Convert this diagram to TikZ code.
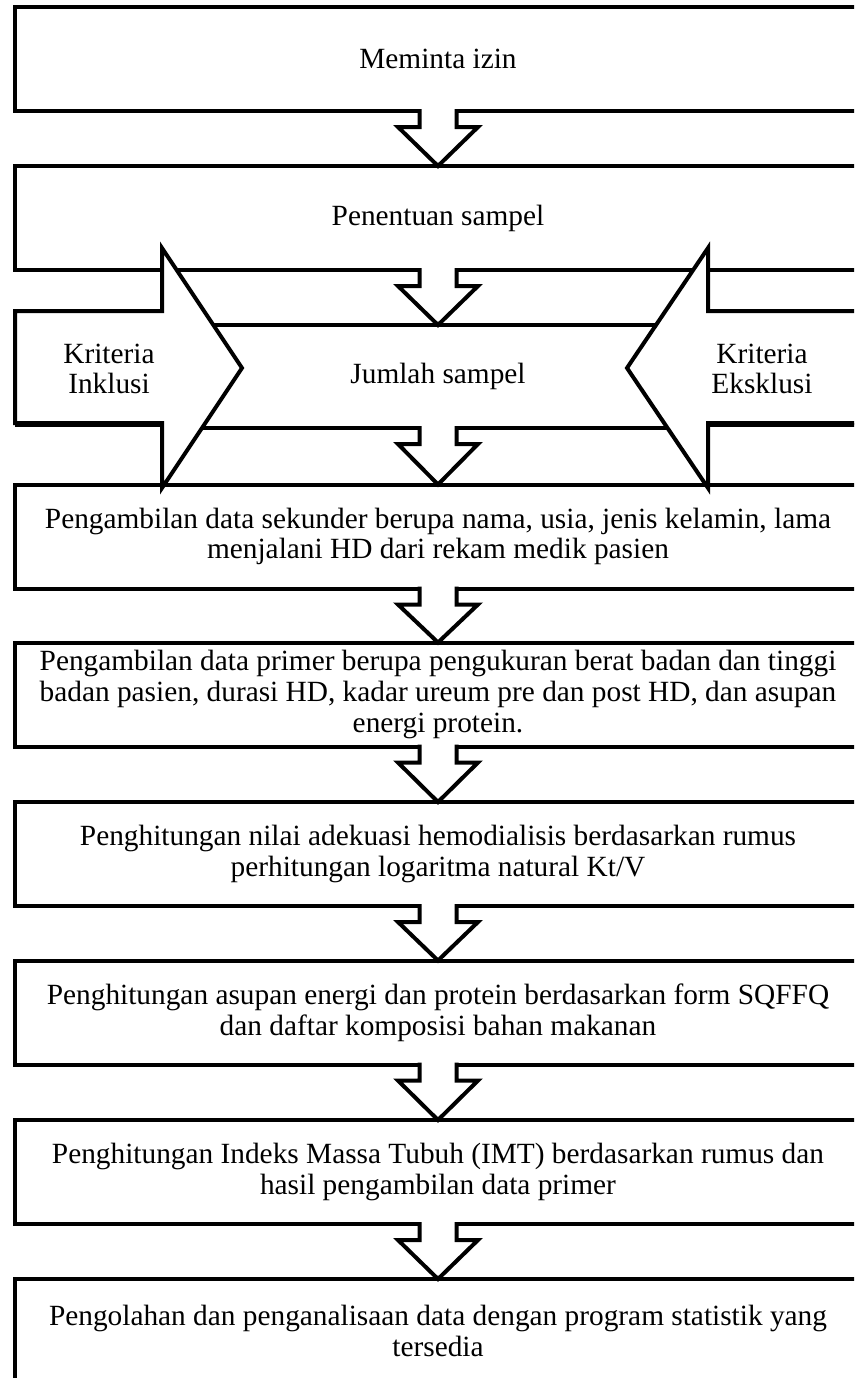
\documentclass[tikz,border=0pt]{standalone}
\usepackage{fontspec}
\setmainfont{Liberation Serif}
\usetikzlibrary{calc}
\newcommand\blockdown[2]{%
  \fill[white] ($(#1.south)+(-18.5,-3)$) -- ($(#1.south)+(-18.5,16)$) -- ($(#1.south)+(-40,16)$) -- (#2.north) -- ($(#1.south)+(40,16)$) -- ($(#1.south)+(18.5,16)$) -- ($(#1.south)+(18.5,-3)$) -- cycle;
  \draw[arr] ($(#1.south)+(-18.5,-2)$) -- ($(#1.south)+(-18.5,16)$) -- ($(#1.south)+(-40,16)$) -- (#2.north) -- ($(#1.south)+(40,16)$) -- ($(#1.south)+(18.5,16)$) -- ($(#1.south)+(18.5,-2)$);}
\begin{document}
\begin{tikzpicture}[x=0.75pt,y=-0.75pt,
  txt/.style={align=center, font=\fontsize{22}{23}\selectfont},
  box/.style={txt, draw, fill=white, line width=3pt, minimum width=634.5pt, minimum height=78pt, inner sep=0pt, outer sep=0pt},
  arr/.style={line width=3pt, line join=miter}]
\useasboundingbox (0,0) rectangle (854,1378);
\clip (0,0) rectangle (854,1378);
\fill[white] (0,0) rectangle (854,1378);
% boxes
\node[box] (b1) at (438,59) {Meminta izin};
\node[box] (b2) at (438,218) {Penentuan sampel};
\node[box, minimum width=372pt, minimum height=77.25pt] (jml) at (438,376.5) {Jumlah sampel};
\node[box] (b3) at (438,536.5) {Pengambilan data sekunder berupa nama, usia, jenis kelamin, lama\\menjalani HD dari rekam medik pasien};
\node[box] (b4) at (438,694.5) {Pengambilan data primer berupa pengukuran berat badan dan tinggi\\badan pasien, durasi HD, kadar ureum pre dan post HD, dan asupan\\energi protein.};
\node[box] (b5) at (438,854) {Penghitungan nilai adekuasi hemodialisis berdasarkan rumus\\perhitungan logaritma natural Kt/V};
\node[box] (b6) at (438,1012.5) {Penghitungan asupan energi dan protein berdasarkan form SQFFQ\\dan daftar komposisi bahan makanan};
\node[box] (b7) at (438,1172) {Penghitungan Indeks Massa Tubuh (IMT) berdasarkan rumus dan\\hasil pengambilan data primer};
\node[box] (b8) at (438,1331) {Pengolahan dan penganalisaan data dengan program statistik yang\\tersedia};
% down arrows
\blockdown{b1}{b2}
\blockdown{b2}{jml}
\blockdown{jml}{b3}
\blockdown{b3}{b4}
\blockdown{b4}{b5}
\blockdown{b5}{b6}
\blockdown{b6}{b7}
\blockdown{b7}{b8}
% side arrows
\draw[arr, fill=white] (15,311) -- (162,311) -- (162,248) -- (242,368) -- (162,488) -- (162,423) -- (15,423) -- cycle;
\draw[arr, fill=white] (870,311) -- (708,311) -- (708,248) -- (627,368) -- (708,488) -- (708,423) -- (870,423);
\draw[line width=3pt] (15,425) -- (162,425);
\draw[line width=3pt] (708,425) -- (870,425);
\node[txt] (inkl) at (109,369) {Kriteria\\Inklusi};
\node[txt] (eksk) at (762,369) {Kriteria\\Eksklusi};
\end{tikzpicture}
\end{document}
